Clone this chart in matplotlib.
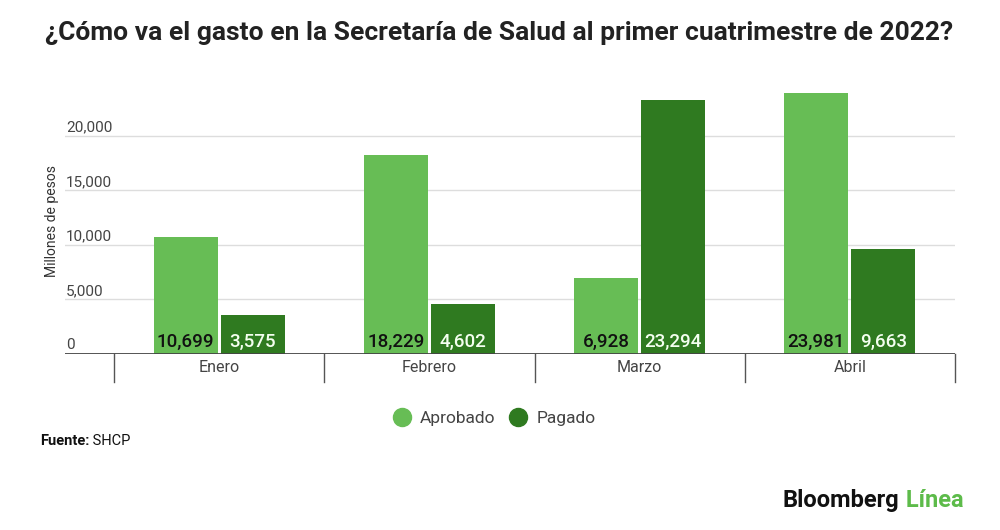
import matplotlib
matplotlib.use("Agg")
import matplotlib.pyplot as plt
import matplotlib.transforms as mtransforms
from matplotlib.lines import Line2D
import numpy as np

plt.rcParams['font.family'] = ['Roboto', 'DejaVu Sans']

# === Data ===
meses = ["Enero", "Febrero", "Marzo", "Abril"]
aprobado = [10699, 18229, 6928, 23981]
pagado = [3575, 4602, 23294, 9663]
yticks = [0, 5000, 10000, 15000, 20000]

c_aprob = "#67bd55"
c_pag = "#2f7a20"

W, H = 1000, 530
fig = plt.figure(figsize=(10, 5.3), dpi=100)
ax = fig.add_axes([65 / W, (H - 354) / H, 890 / W, 278 / H])

x = np.arange(len(meses))
bw = 0.305
ax.bar(x - bw / 2 - 0.007, aprobado, width=bw, color=c_aprob, zorder=3)
ax.bar(x + bw / 2 + 0.007, pagado, width=bw, color=c_pag, zorder=3)

ax.set_xlim(-0.734, 3.5)
ax.set_ylim(0, 25500)

# value labels inside bars
for i in range(len(meses)):
    ax.text(x[i] - bw / 2 - 0.007, 640, f"{aprobado[i]:,}", ha="center", va="baseline",
            fontsize=13.5, fontweight="medium", color="#111111", zorder=4)
    ax.text(x[i] + bw / 2 + 0.007, 640, f"{pagado[i]:,}", ha="center", va="baseline",
            fontsize=13.5, fontweight="medium", color="#f4fff0", zorder=4)

# gridlines and y labels above them
trans = mtransforms.blended_transform_factory(ax.transAxes, ax.transData)
for v in yticks[1:]:
    ax.axhline(v, color="#dddddd", lw=1, zorder=1)
for v in yticks:
    ax.text(0.001, v + 420, f"{v:,}", transform=trans, ha="left", va="baseline",
            fontsize=11, color="#444444")

ax.axhline(0, color="#444444", lw=2, zorder=5)

# category dividers
trans2 = mtransforms.blended_transform_factory(ax.transData, ax.transAxes)
for d in np.arange(-0.5, 3.6, 1):
    ax.plot([d, d], [0, -0.1], transform=trans2, color="#555555", lw=1, clip_on=False)
for i, m in enumerate(meses):
    ax.text(x[i], -0.05, m, transform=trans2, ha="center", va="center",
            fontsize=11.5, color="#444444")

ax.set_xticks([])
ax.set_yticks([])
for s in ax.spines.values():
    s.set_visible(False)

fig.text(52 / W, 1 - 221 / H, "Millones de pesos", rotation=90, ha="center", va="center",
         fontsize=10, color="#333333")

# title
fig.text(45 / W, 1 - 40 / H, "¿Cómo va el gasto en la Secretaría de Salud al primer cuatrimestre de 2022?",
         fontsize=19, fontweight="bold", color="#222222", ha="left", va="baseline")

# legend
handles = [Line2D([], [], marker="o", ls="", markersize=13, color=c_aprob),
           Line2D([], [], marker="o", ls="", markersize=13, color=c_pag)]
fig.legend(handles, ["Aprobado", "Pagado"], loc="center", bbox_to_anchor=(490 / W, 1 - 418 / H),
           ncol=2, frameon=False, fontsize=12.5, handletextpad=0.05, columnspacing=0.3,
           labelcolor="#444444")

# source
t1 = fig.text(40 / W, 1 - 445 / H, "Fuente:", fontsize=10.5, fontweight="bold", color="#111111",
              ha="left", va="baseline")
ax.annotate(" SHCP", xy=(1, 0), xycoords=t1, fontsize=10.5, color="#111111",
            ha="left", va="bottom", annotation_clip=False)

# logo
t2 = fig.text(783 / W, 1 - 507 / H, "Bloomberg", fontsize=17, fontweight="bold", color="#111111",
              ha="left", va="baseline")
ax.annotate(" Línea", xy=(1, 0), xycoords=t2, fontsize=17, fontweight="bold", color="#5dbb4a",
            ha="left", va="bottom", annotation_clip=False)

fig.savefig("out.png", dpi=100)
